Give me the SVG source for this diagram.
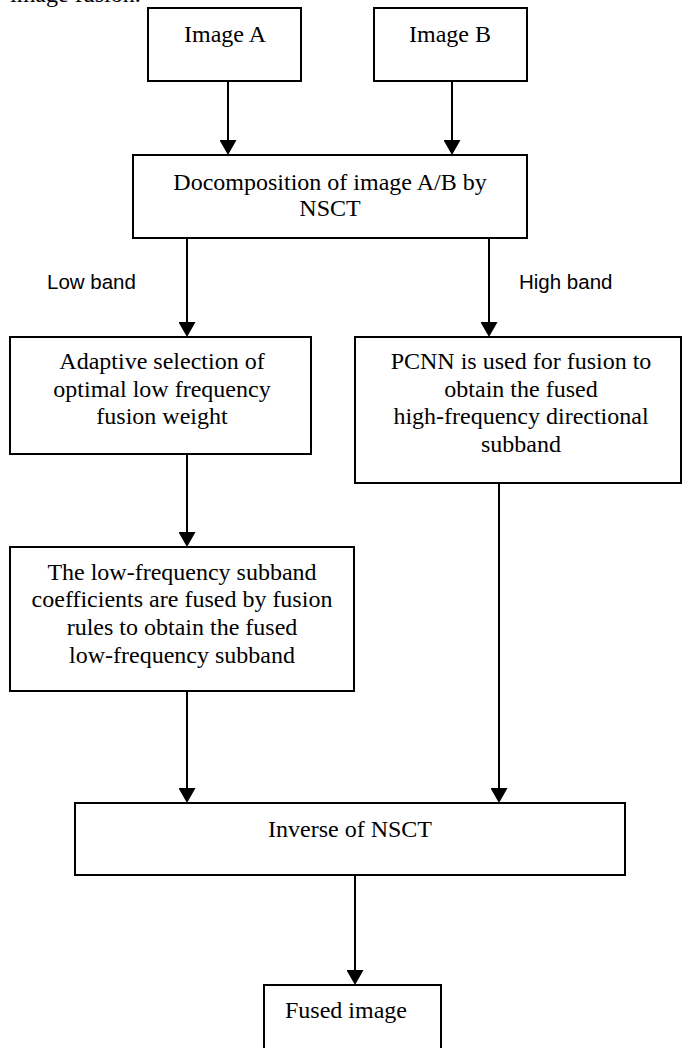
<svg xmlns="http://www.w3.org/2000/svg" width="682" height="1048" viewBox="0 0 682 1048">
<style>
.box{fill:#fff;stroke:#000;stroke-width:2}
.t{font-family:"Liberation Serif","Times New Roman",serif;font-size:24px;fill:#000;text-anchor:middle}
.s{font-family:"Liberation Sans",Arial,sans-serif;font-size:20.5px;fill:#000}
.c{stroke:#000;stroke-width:2;fill:none;marker-end:url(#ah)}
</style>
<defs>
<marker id="ah" markerUnits="userSpaceOnUse" viewBox="0 0 15 17" markerWidth="15" markerHeight="17" refX="7" refY="8.5" orient="auto">
<path d="M0,0 L15,8.5 L0,17 Z" fill="#000"/>
</marker>
</defs>
<rect width="682" height="1048" fill="#fff"/>
<text x="10" y="2" class="t" style="text-anchor:start">image fusion.</text>
<g id="connectors">
<line class="c" x1="228" y1="81" x2="228" y2="147"/>
<line class="c" x1="452" y1="81" x2="452" y2="147"/>
<line class="c" x1="187" y1="238" x2="187" y2="329"/>
<line class="c" x1="489" y1="238" x2="489" y2="329"/>
<line class="c" x1="187" y1="454" x2="187" y2="539"/>
<line class="c" x1="187" y1="691" x2="187" y2="795"/>
<line class="c" x1="499" y1="483" x2="499" y2="795"/>
<line class="c" x1="355" y1="875" x2="355" y2="977"/>
<text x="47" y="289" class="s">Low band</text>
<text x="519" y="289" class="s">High band</text>
</g>
<g id="imageA">
<rect class="box" x="148" y="8" width="153" height="73"/>
<text class="t" x="225" y="42">Image A</text>
</g>
<g id="imageB">
<rect class="box" x="374" y="8" width="153" height="73"/>
<text class="t" x="450" y="42">Image B</text>
</g>
<g id="decomposition">
<rect class="box" x="133" y="155" width="394" height="83"/>
<text class="t" x="330" y="190">Docomposition of image A/B by</text>
<text class="t" x="330" y="216">NSCT</text>
</g>
<g id="adaptive">
<rect class="box" x="10" y="337" width="301" height="117"/>
<text class="t" x="162" y="369">Adaptive selection of</text>
<text class="t" x="162" y="397">optimal low frequency</text>
<text class="t" x="162" y="424">fusion weight</text>
</g>
<g id="pcnn">
<rect class="box" x="355" y="337" width="326" height="146"/>
<text class="t" x="521" y="369">PCNN is used for fusion to</text>
<text class="t" x="521" y="397">obtain the fused</text>
<text class="t" x="521" y="424">high-frequency directional</text>
<text class="t" x="521" y="452">subband</text>
</g>
<g id="lowfreq">
<rect class="box" x="10" y="547" width="344" height="144"/>
<text class="t" x="182" y="580">The low-frequency subband</text>
<text class="t" x="182" y="607">coefficients are fused by fusion</text>
<text class="t" x="182" y="635">rules to obtain the fused</text>
<text class="t" x="182" y="663">low-frequency subband</text>
</g>
<g id="inverse">
<rect class="box" x="75" y="803" width="550" height="72"/>
<text class="t" x="350" y="837">Inverse of NSCT</text>
</g>
<g id="fused">
<rect class="box" x="264" y="985" width="177" height="80"/>
<text class="t" x="346" y="1018">Fused image</text>
</g>
</svg>
